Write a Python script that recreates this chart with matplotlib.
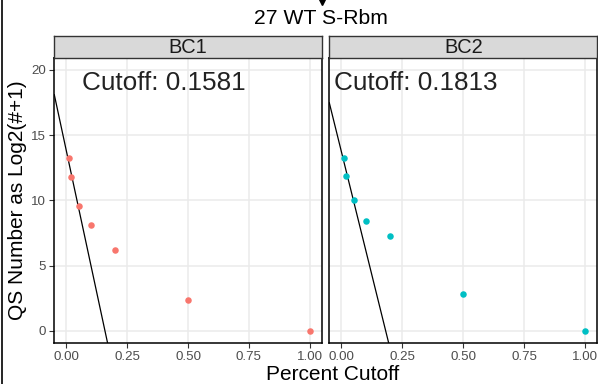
import numpy as np
import matplotlib
matplotlib.use("Agg")
from matplotlib import pyplot as plt
from matplotlib.lines import Line2D

plt.rcParams["font.family"] = ["Liberation Sans", "DejaVu Sans"]

# Data
panels = ["BC1", "BC2"]
pct_cutoff = [0.01, 0.02, 0.05, 0.10, 0.20, 0.50, 1.00]
qs_bc1 = [13.27, 11.79, 9.59, 8.08, 6.21, 2.33, 0.0]
qs_bc2 = [13.27, 11.89, 10.05, 8.41, 7.26, 2.81, 0.0]
qs_values = [qs_bc1, qs_bc2]
intercepts = [13.75, 13.70]
cutoffs = [0.1581, 0.1813]
label_x = [0.40, 0.306]
colours = ["#F8766D", "#00BFC4"]
x_ticks = [0.0, 0.25, 0.5, 0.75, 1.0]
x_labels = ["0.00", "0.25", "0.50", "0.75", "1.00"]
y_ticks = [0, 5, 10, 15, 20]
title = "27 WT S-Rbm"

W, H = 598, 384
fig = plt.figure(figsize=(W / 100, H / 100), dpi=100)

lefts = [54.3, 329.3]
rights = [322.0, 597.3]
top, bottom = 57.5, 343.0
strip_top = 36.0

for i, name in enumerate(panels):
    l, r = lefts[i], rights[i]
    ax = fig.add_axes([l / W, (H - bottom) / H, (r - l) / W, (bottom - top) / H])
    ax.set_xlim(-0.05, 1.05)
    ax.set_ylim(-0.94, 20.95)
    ax.set_xticks(x_ticks)
    ax.set_xticklabels(x_labels)
    ax.set_yticks(y_ticks)
    ax.grid(True, color="#EBEBEB", linewidth=1.1)
    ax.set_axisbelow(True)
    for sp in ax.spines.values():
        sp.set_color("black")
        sp.set_linewidth(1.1)
    ax.tick_params(axis="both", length=3.6, width=0.8, color="#333333",
                   labelsize=9.6, labelcolor="#4D4D4D", pad=2.5)
    if i > 0:
        ax.tick_params(axis="y", left=False, labelleft=False)

    # tangent line crossing zero at the cutoff
    slope = -intercepts[i] / cutoffs[i]
    xs = np.array([-0.05, 1.05])
    ax.plot(xs, intercepts[i] + slope * xs, color="black", linewidth=0.9)
    ax.scatter(pct_cutoff, qs_values[i], color=colours[i], s=22,
               linewidths=0, zorder=3)
    ax.text(label_x[i], 19.0, "Cutoff: %.4f" % cutoffs[i], fontsize=18.8,
            color="#222222", ha="center", va="center")

    # facet strip
    sax = fig.add_axes([l / W, (H - top) / H, (r - l) / W, (top - strip_top) / H])
    sax.set_xticks([])
    sax.set_yticks([])
    sax.set_facecolor("#D9D9D9")
    for sp in sax.spines.values():
        sp.set_color("#333333")
        sp.set_linewidth(1.0)
    sax.text(0.5, 0.47, name, transform=sax.transAxes, fontsize=14.4,
             color="#1A1A1A", ha="center", va="center")

fig.text(321.3 / W, 1 - 18.5 / H, title, fontsize=15.2, ha="center", va="center")
fig.text(333 / W, 1 - 380.5 / H, "Percent Cutoff", fontsize=15, ha="center",
         va="baseline")
fig.text(17.5 / W, 1 - 200 / H, "QS Number as Log2(#+1)", fontsize=15,
         rotation=90, ha="center", va="center")

# left border line and small marker at top, as in the reference
fig.add_artist(Line2D([1.5 / W, 1.5 / W], [0, 1], color="black", linewidth=1.2,
                      transform=fig.transFigure))
fig.add_artist(Line2D([321.5 / W], [1 - 2 / H], marker="v", markersize=4,
                      color="black", linestyle="none", transform=fig.transFigure))

fig.savefig("out.png", dpi=100)
